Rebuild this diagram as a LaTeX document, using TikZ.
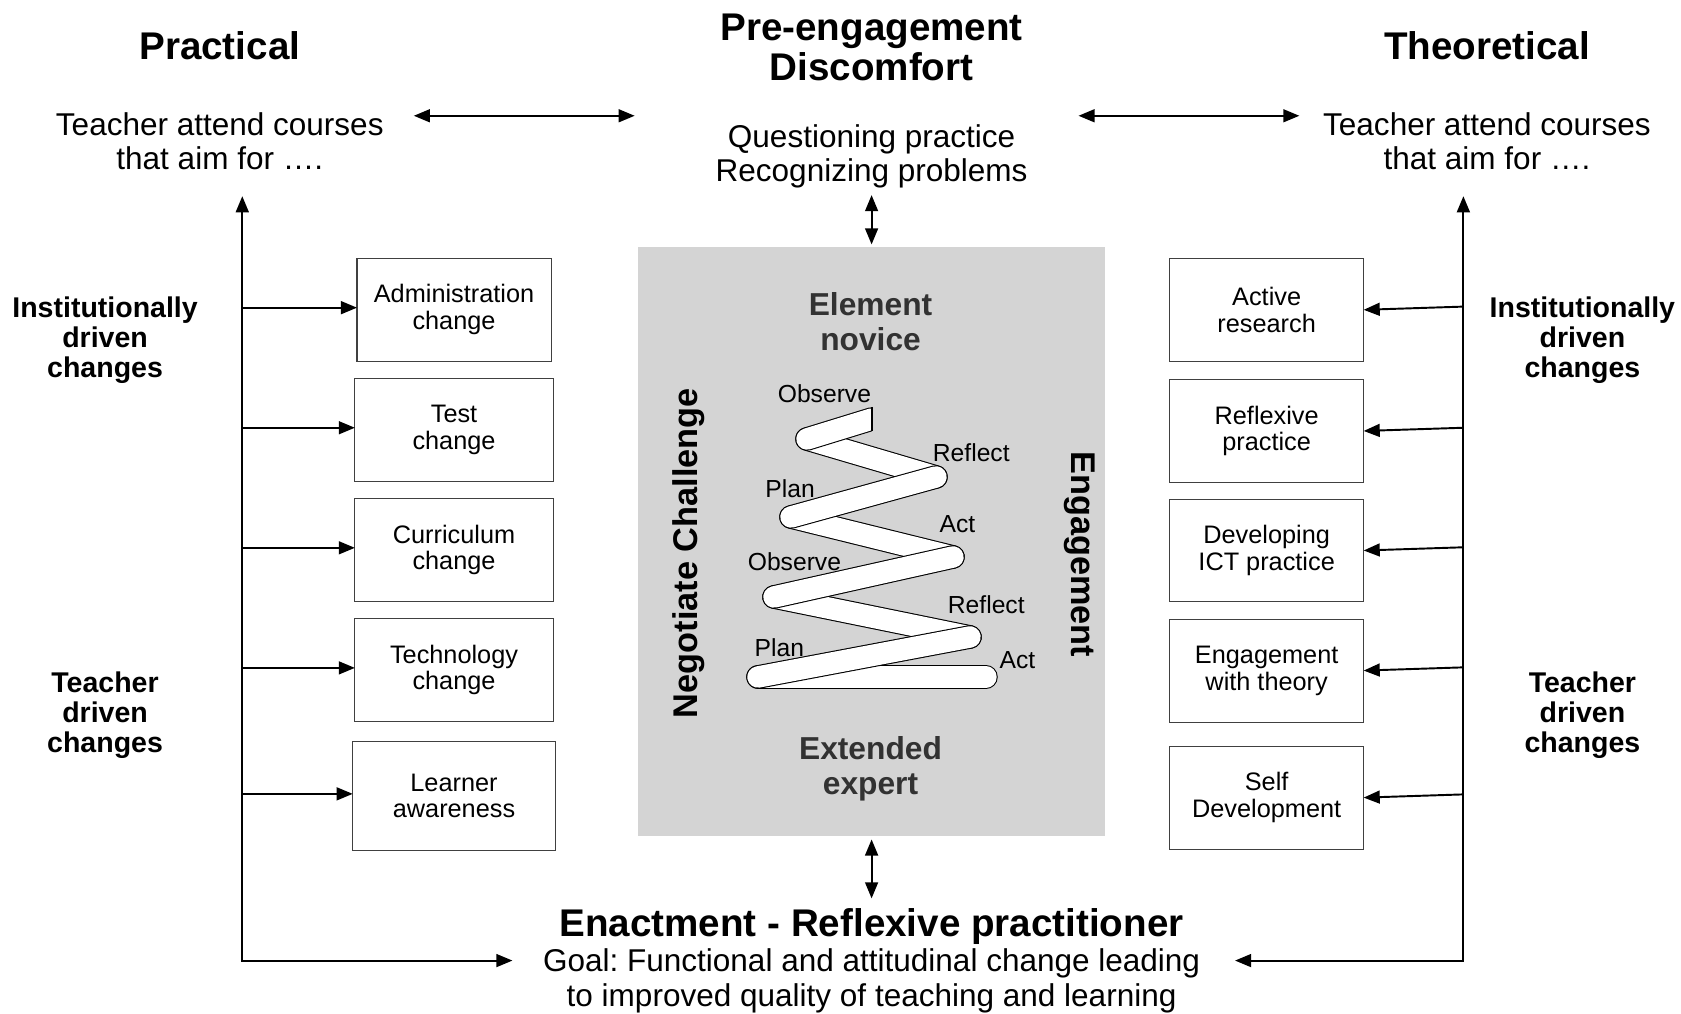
\documentclass[tikz,border=0pt]{standalone}
\usepackage{fontspec}
\setmainfont{Liberation Sans}
\usetikzlibrary{arrows.meta,calc}
\definecolor{coregray}{RGB}{212,212,212}
\definecolor{labgray}{RGB}{50,50,50}
\newcommand\ribbonseg[2]{\draw[rout] #1 -- #2; \draw[rin] #1 -- #2;}
\frenchspacing
\begin{document}
\begin{tikzpicture}[x=0.5pt,y=-0.5pt,
  every node/.style={inner sep=0pt, outer sep=0pt},
  ttl/.style={font=\fontsize{18}{18.5}\selectfont\bfseries, align=center},
  bodytxt/.style={font=\fontsize{14.7}{16}\selectfont, align=center},
  sidelab/.style={font=\fontsize{13.3}{14}\selectfont\bfseries, align=center},
  chbox/.style={draw=black!75, line width=0.5pt, minimum width=90.5pt, minimum height=48pt, align=center, font=\fontsize{11.8}{12.5}\selectfont},
  corelab/.style={font=\fontsize{14.8}{16}\selectfont\bfseries, align=center, text=labgray},
  rotlab/.style={font=\fontsize{16}{16}\selectfont\bfseries},
  cyclab/.style={font=\fontsize{11.5}{12}\selectfont},
  arr/.style={-{Triangle[length=7.5pt,width=6pt]}, line width=0.9pt},
  dbl/.style={{Triangle[length=7.5pt,width=6pt]}-{Triangle[length=7.5pt,width=6pt]}, line width=0.9pt},
  rout/.style={line width=11pt, black, line cap=round},
  rin/.style={line width=10pt, white, line cap=round}]

\useasboundingbox (0,0) rectangle (1568,945);

% titles
\node[ttl] (prac) at (205,43) {Practical};
\node[ttl] (pre) at (813,44.5) {Pre-engagement\\Discomfort};
\node[ttl] (theo) at (1387,43) {Theoretical};
\node[bodytxt] (aimL) at (205,132) {Teacher attend courses\\that aim for ….};
\node[bodytxt] (aimR) at (1387,132) {Teacher attend courses\\that aim for ….};
\node[bodytxt] (quest) at (813,146) {Questioning practice\\Recognizing problems};

% central core
\node[fill=coregray, minimum width=218pt, minimum height=275pt] (core) at (813,505) {};
\node[corelab] (novice) at (812,300) {Element\\novice};
\node[corelab] (expert) at (812,717) {Extended\\expert};
\node[rotlab, rotate=90] (negot) at (642,516) {Negotiate Challenge};
\node[rotlab, rotate=-90] (engage) at (1007,517) {Engagement};

% spiral ribbon (full-size pixel coordinates)
\begin{scope}[scale=0.93275]
  \ribbonseg{(807,439)}{(936,477)}
  \ribbonseg{(791,517)}{(953,557)}
  \ribbonseg{(774,597)}{(970,637)}
  \ribbonseg{(758,677)}{(986,677)}
  \ribbonseg{(936,477)}{(791,517)}
  \ribbonseg{(953,557)}{(774,597)}
  \ribbonseg{(970,637)}{(758,677)}
  \begin{scope}
    \clip (700,380) rectangle (872,470);
    \ribbonseg{(872,419)}{(807,439)}
  \end{scope}
  \draw[line width=0.5pt] (872,407) -- (872,431);
\end{scope}

\node[cyclab] (obs1) at (769,367) {Observe};
\node[cyclab] (ref1) at (906,422) {Reflect};
\node[cyclab] (plan1) at (737,456) {Plan};
\node[cyclab] (act1) at (893,489) {Act};
\node[cyclab] (obs2) at (741,524) {Observe};
\node[cyclab] (ref2) at (920,564) {Reflect};
\node[cyclab] (plan2) at (727,604) {Plan};
\node[cyclab] (act2) at (949,616) {Act};

% bottom
\node[ttl] (enact) at (813,864) {Enactment - Reflexive practitioner};
\node[bodytxt] (goal) at (813,915) {Goal: Functional and attitudinal change leading\\to improved quality of teaching and learning};

% side labels
\node[sidelab] (instL) at (98,317) {Institutionally\\driven\\changes};
\node[sidelab] (tdrL) at (98,667.5) {Teacher\\driven\\changes};
\node[sidelab] (instR) at (1476,317) {Institutionally\\driven\\changes};
\node[sidelab] (tdrR) at (1476,667.5) {Teacher\\driven\\changes};

% left boxes
\node[chbox] (adm) at (423.5,289) {Administration\\change};
\node[chbox, minimum width=92.5pt] (test) at (423.5,401) {Test\\change};
\node[chbox, minimum width=92.5pt] (curr) at (423.5,513) {Curriculum\\change};
\node[chbox, minimum width=92.5pt] (tech) at (423.5,625) {Technology\\change};
\node[chbox, minimum width=94.5pt, minimum height=50.5pt] (learn) at (423.5,742.5) {Learner\\awareness};

% right boxes
\node[chbox] (act) at (1181.5,289) {Active\\research};
\node[chbox] (refl) at (1181.5,402) {Reflexive\\practice};
\node[chbox] (ict) at (1181.5,513.5) {Developing\\ICT practice};
\node[chbox] (ength) at (1181.5,625.5) {Engagement\\with theory};
\node[chbox] (self) at (1181.5,744) {Self\\Development};

% connectors
\coordinate (tLt) at (226,183);
\coordinate (tLb) at (226,896);
\coordinate (gL) at (478,896);
\coordinate (tRt) at (1365,183);
\coordinate (tRb) at (1365,896);
\coordinate (gR) at (1152,896);
\draw[dbl] (tLt) -- (tLb) -- (gL);
\draw[dbl] (tRt) -- (tRb) -- (gR);

\foreach \b in {adm,test,curr,tech,learn}
  \draw[arr] ([yshift=1pt]\b.west -| tLt) -- ([yshift=1pt]\b.west);
\foreach \b in {act,refl,ict,ength,self}
  \draw[arr] ($(\b.east -| tRt)+(0,-3)$) -- (\b.east);

\coordinate (hL1) at (386,108);
\coordinate (hL2) at (592,108);
\coordinate (hR1) at (1006,108);
\coordinate (hR2) at (1212,108);
\draw[dbl] (hL1) -- (hL2);
\draw[dbl] (hR1) -- (hR2);

\coordinate (vq) at (813,182);
\draw[dbl] (vq) -- ([yshift=1pt]core.north);
\coordinate (ve) at (813,838);
\draw[dbl] ([yshift=-1.5pt]core.south) -- (ve);

\end{tikzpicture}
\end{document}
